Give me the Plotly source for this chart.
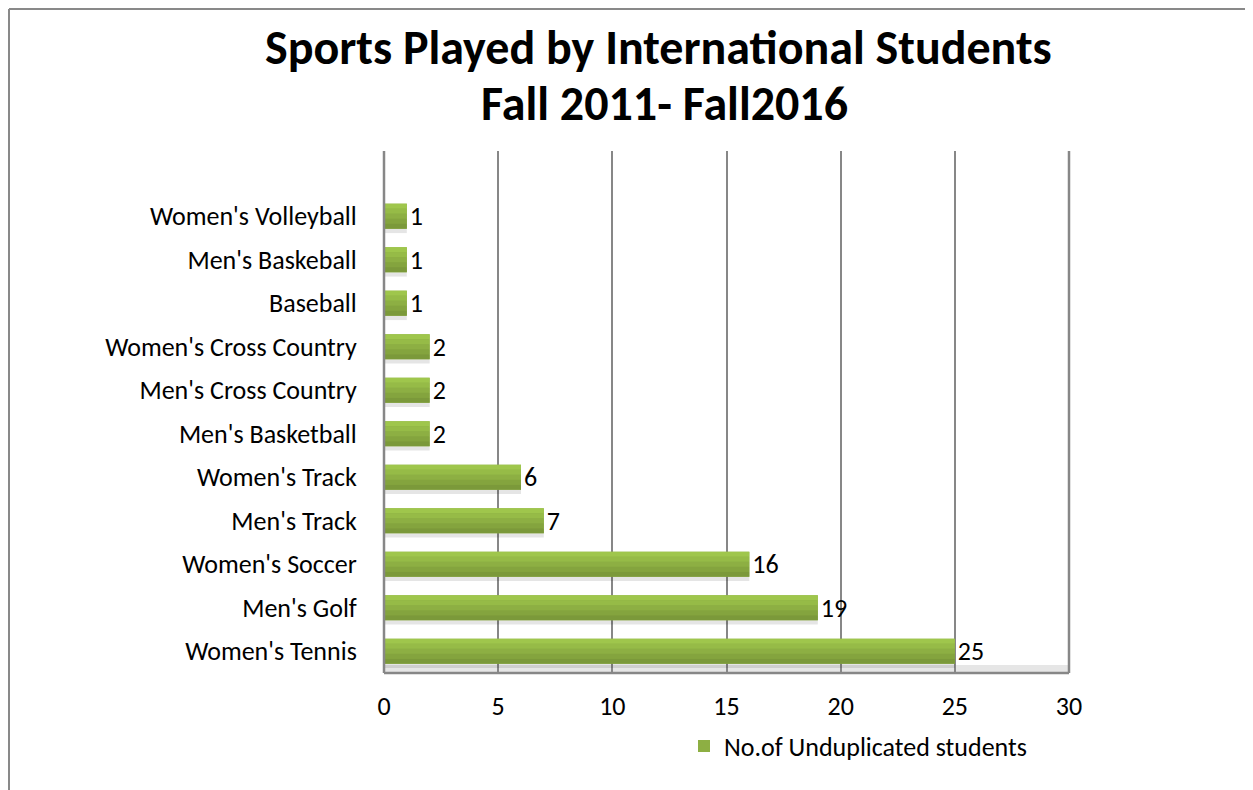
import plotly.graph_objects as go

# data (bottom to top as in the chart)
sports = ["Women's Tennis", "Men's Golf", "Women's Soccer", "Men's Track", "Women's Track",
          "Men's Basketball", "Men's Cross Country", "Women's Cross Country", "Baseball",
          "Men's Baskeball", "Women's Volleyball"]
students = [25, 19, 16, 7, 6, 2, 2, 2, 1, 1, 1]

series_name = "No.of Unduplicated students"
title_1 = "Sports Played by International Students"
title_2 = "Fall 2011- Fall2016"

FONT = "Calibri, Carlito, Lato, sans-serif"
FS = 26
BAR_W = 0.575
band_colors = ["#9fc64c", "#96bb47", "#8daf43", "#84a43e", "#7b993a"]

fig = go.Figure()

# soft shadow under each bar
fig.add_trace(go.Bar(
    x=students, y=sports, orientation="h", width=0.1, offset=-BAR_W / 2 - 0.1,
    marker=dict(color="rgba(0,0,0,0.10)", line=dict(width=0)),
    showlegend=False, hoverinfo="skip"))

# base bar with labels and legend entry
fig.add_trace(go.Bar(
    x=students, y=sports, orientation="h", name=series_name, width=BAR_W,
    marker=dict(color="#8daf43", line=dict(width=0)),
    text=students, textposition="outside", cliponaxis=False, constraintext="none",
    textfont=dict(size=FS, color="black", family=FONT)))

# gradient bands, top to bottom
band = BAR_W / len(band_colors)
for i, c in enumerate(band_colors):
    fig.add_trace(go.Bar(
        x=students, y=sports, orientation="h", width=band * 1.02,
        offset=BAR_W / 2 - band * (i + 1),
        marker=dict(color=c, line=dict(width=0)),
        showlegend=False, hoverinfo="skip"))

# plot area in page pixels (page has an 8px body margin)
L, R, T, B = 384, 1069, 151, 673
pw, ph = R - L, B - T

def px(x):
    return (x - L) / pw

def py(y):
    return (B - y) / ph

fig.update_layout(
    width=1245, height=782,
    margin=dict(l=L - 8, r=1253 - R, t=T - 8, b=790 - B),
    paper_bgcolor="white", plot_bgcolor="white",
    barmode="overlay",
    font=dict(family=FONT, size=FS, color="black"),
    showlegend=True,
    legend=dict(orientation="h", x=px(684), y=py(746), xanchor="left", yanchor="middle",
                font=dict(size=FS), bgcolor="rgba(0,0,0,0)"),
    xaxis=dict(range=[0, 30], dtick=5, showgrid=True, gridcolor="#878787", gridwidth=2,
               zeroline=False, showline=False, ticks="outside", ticklen=10,
               tickcolor="rgba(0,0,0,0)", tickfont=dict(size=FS)),
    yaxis=dict(type="category", range=[-0.5, 11.5], showgrid=False, showline=False,
               ticks="outside", ticklen=0, ticklabelstandoff=21, tickfont=dict(size=FS)),
    shapes=[
        # floor band
        dict(type="rect", xref="paper", yref="paper", x0=0, x1=1, y0=0, y1=py(665),
             fillcolor="#e6e6e6", line=dict(width=0), layer="below"),
        # plot frame lines
        dict(type="line", xref="paper", yref="paper", x0=0, x1=0, y0=0, y1=1,
             line=dict(color="#878787", width=2.5)),
        dict(type="line", xref="paper", yref="paper", x0=0, x1=1, y0=0, y1=0,
             line=dict(color="#878787", width=2.5)),
        dict(type="line", xref="paper", yref="paper", x0=1, x1=1, y0=0, y1=1,
             line=dict(color="#878787", width=2.5)),
        # chart outer border (left and top)
        dict(type="line", xref="paper", yref="paper", x0=px(9), x1=px(9), y0=py(800), y1=py(9),
             line=dict(color="#898989", width=2)),
        dict(type="line", xref="paper", yref="paper", x0=px(9), x1=px(1300), y0=py(9), y1=py(9),
             line=dict(color="#898989", width=2)),
    ],
    annotations=[
        dict(text="<b>" + title_1 + "</b>", xref="paper", yref="paper", x=px(658), y=py(48),
             xanchor="center", yanchor="middle", showarrow=False, font=dict(size=48)),
        dict(text="<b>" + title_2 + "</b>", xref="paper", yref="paper", x=px(664), y=py(104),
             xanchor="center", yanchor="middle", showarrow=False, font=dict(size=48)),
    ],
)

fig.write_html("out.html")
